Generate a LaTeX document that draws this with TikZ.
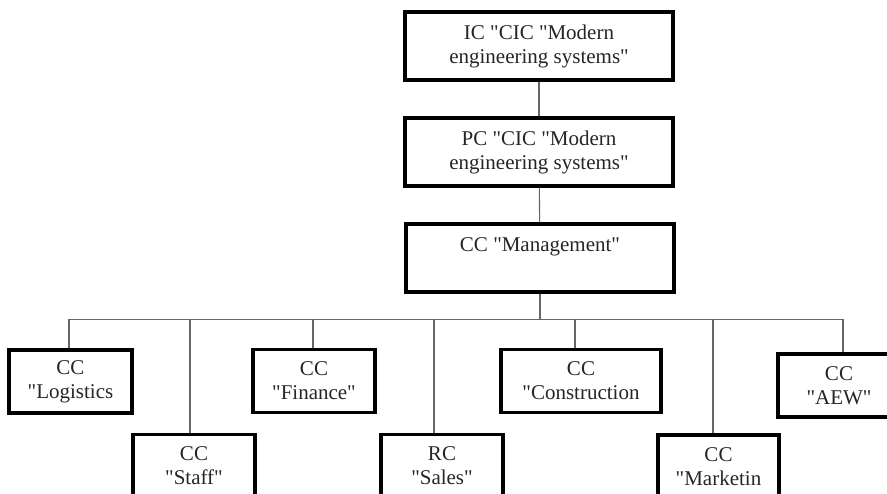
\documentclass[tikz,border=0pt]{standalone}
\usepackage{fontspec}
\setmainfont{Liberation Serif}[Ligatures=TeXOff]
\begin{document}
\begin{tikzpicture}[x=1pt,y=-1pt,
  box/.style={draw=black,line width=3.2pt,fill=white,align=center,inner sep=0pt,
    font=\fontsize{21}{24}\selectfont,text=black!85},
  link/.style={draw=black!60,line width=1.1pt}]
\useasboundingbox (0,0) rectangle (887,494);
\clip (0,0) rectangle (887,494);
\fill[white] (0,0) rectangle (887,494);
% top column
\node[box,minimum width=268,minimum height=68] (ic) at (539,46) {IC "CIC "Modern\\engineering systems"};
\node[box,minimum width=268,minimum height=68] (pc) at (539,152) {PC "CIC "Modern\\engineering systems"};
\node[box,minimum width=268,minimum height=68] (mg) at (540,258) {CC "Management"\\[2pt]\mbox{}};
% second row
\node[box,minimum width=123,minimum height=63] (lo) at (70.5,381.5) {CC\\"Logistics};
\node[box,minimum width=122,minimum height=63] (fi) at (314,381) {CC\\"Finance"};
\node[box,minimum width=160,minimum height=63] (co) at (581,381) {CC\\"Construction};
\node[box,minimum width=122,minimum height=63] (ae) at (839,385.5) {CC\\"AEW"};
% third row (cut by the page edge)
\node[box,minimum width=122,minimum height=63] (st) at (194,466) {CC\\"Staff"};
\node[box,minimum width=122,minimum height=63] (sa) at (442,466) {RC\\"Sales"};
\node[box,minimum width=121,minimum height=63] (ma) at (718.5,466.5) {CC\\"Marketin};
% connectors
\draw[link] (ic) -- (pc);
\draw[link] (pc) -- (mg);
\draw[link] (mg.south) -- ++(0,26) coordinate (bus);
\draw[link] ([xshift=-1.5]lo.north) |- (bus) -| ([xshift=4]ae.north);
\draw[link] ([xshift=-4]st.north) -- ([xshift=-4]st.north |- bus);
\draw[link] ([xshift=-1]fi.north) -- ([xshift=-1]fi.north |- bus);
\draw[link] ([xshift=-8]sa.north) -- ([xshift=-8]sa.north |- bus);
\draw[link] ([xshift=-6]co.north) -- ([xshift=-6]co.north |- bus);
\draw[link] ([xshift=-5.5]ma.north) -- ([xshift=-5.5]ma.north |- bus);
\end{tikzpicture}
\end{document}
